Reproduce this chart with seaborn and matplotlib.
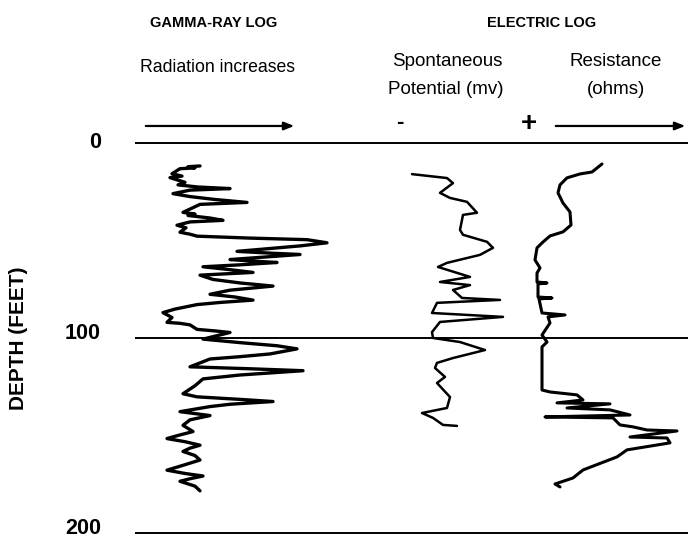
import matplotlib
matplotlib.use("Agg")
import matplotlib.pyplot as plt
import seaborn as sns
import pandas as pd

sns.set_theme(style="white")
plt.rcParams['font.family'] = ['Liberation Sans', 'DejaVu Sans']
plt.rcParams['text.color'] = 'black'

# ---- data (track reading in chart units, depth in feet) ----
gamma_reading = [200, 188, 195, 180, 176, 172, 182, 170, 185, 178, 198, 230, 190, 173, 182, 190, 215, 247, 200,
                 183, 195, 188, 210, 223, 190, 177, 186, 180, 190, 197,
                 250, 307, 327, 300, 237, 270, 300, 230, 250, 277, 240, 203, 230, 253, 200, 213, 240, 273, 230,
                 210, 235, 253, 220, 197, 175, 163, 172, 167, 180, 190,
                 197, 215, 230, 203, 240, 277, 297, 270, 240, 210, 190, 250, 303, 240, 203, 195, 183, 190, 197,
                 240, 273, 230, 210, 180, 195, 210, 190, 183,
                 193, 178, 167, 185, 200, 190, 183, 195, 200, 185, 167, 185, 203, 190, 180, 195, 200]
gamma_depth = [11.8, 12.2, 12.8, 13.2, 14.5, 15.8, 17.0, 17.8, 20.2, 21.5, 22.6, 23.4, 24.2, 26.0, 26.8, 27.5, 29.0, 30.5, 31.5,
               35.6, 36.5, 37.2, 38.5, 39.7, 40.5, 42.2, 43.5, 45.8, 46.8, 47.8,
               48.8, 49.6, 51.2, 52.8, 55.6, 56.5, 57.2, 59.8, 60.5, 61.3, 62.5, 63.5, 65.0, 66.4, 67.8, 70.0, 71.8, 73.4, 75.5,
               77.6, 79.0, 80.6, 81.8, 82.9, 85.2, 87.0, 89.5, 92.0, 92.5, 93.3,
               95.6, 96.4, 97.2, 100.6, 102.4, 104.0, 105.6, 108.2, 109.6, 110.8, 114.8, 115.8, 116.8, 119.0, 121.0, 124.5, 128.6, 129.4, 130.2,
               131.5, 132.6, 134.0, 135.2, 137.8, 138.8, 139.8, 142.0, 144.8,
               148.0, 150.0, 151.6, 153.2, 155.0, 156.5, 158.2, 160.3, 162.6, 165.0, 167.8, 169.5, 170.8, 172.2, 173.5, 176.0, 178.4]

sp_reading = [412, 447, 453, 440, 450, 467, 477, 463, 460, 463, 487, 493, 480, 447, 438, 470, 440, 470, 453,
              462, 500, 437, 432, 503, 440, 432, 433, 460, 485, 453, 437, 435, 445, 437, 450, 447, 422,
              433, 443, 457]
sp_depth = [16.0, 18.0, 20.6, 25.6, 28.2, 30.2, 35.8, 36.9, 44.6, 47.1, 50.7, 53.8, 57.4, 61.5, 63.6, 68.7, 71.3, 72.9, 75.4,
            79.5, 80.5, 82.0, 87.2, 89.2, 91.8, 97.0, 100.0, 102.1, 106.2, 110.3, 112.8, 115.4, 120.0, 123.1, 130.3, 135.9, 138.5,
            141.0, 144.6, 145.1]

res_reading = [602, 592, 580, 567, 560, 558, 563, 570, 571, 563, 550, 543, 537, 535, 540, 537, 537, 547, 538,
               538, 552, 539, 542, 565, 548, 550, 542, 547, 542, 542, 550, 577, 583, 557, 610, 567, 610, 630,
               545, 613, 620, 633, 647, 677, 630, 667, 670, 627, 617, 583, 573, 555, 560]
res_depth = [10.8, 14.9, 15.9, 17.9, 21.5, 25.6, 30.8, 35.4, 42.1, 45.6, 47.7, 50.8, 53.8, 60.0, 64.1, 66.7, 71.3, 71.8, 72.3,
             79.0, 79.5, 80.0, 87.2, 88.2, 89.2, 92.3, 98.5, 102.1, 104.6, 126.7, 127.7, 129.2, 131.8, 133.3, 133.8, 135.9, 136.9, 139.5,
             140.5, 141.0, 144.6, 145.6, 147.2, 147.7, 150.8, 151.3, 153.8, 157.4, 161.0, 167.7, 171.8, 174.9, 176.4]

depth_ticks = [0, 100, 200]
depth_tick_labels = ["0", "100", "200"]

gamma_df = pd.DataFrame({"reading": gamma_reading, "depth": gamma_depth})
sp_df = pd.DataFrame({"reading": sp_reading, "depth": sp_depth})
res_df = pd.DataFrame({"reading": res_reading, "depth": res_depth})

fig = plt.figure(figsize=(6.9, 5.39), dpi=100)
ax = fig.add_axes([0, 0, 1, 1])

sns.lineplot(data=gamma_df, x="reading", y="depth", sort=False, estimator=None,
             color="black", linewidth=2.4, ax=ax)
sns.lineplot(data=sp_df, x="reading", y="depth", sort=False, estimator=None,
             color="black", linewidth=1.8, ax=ax)
sns.lineplot(data=res_df, x="reading", y="depth", sort=False, estimator=None,
             color="black", linewidth=2.2, ax=ax)

ax.set_xlim(0, 690)
ax.set_ylim(203.1, -73.3)
ax.axis("off")

# depth reference lines
ax.hlines(depth_ticks, 135, 688, color="black", linewidth=1.4)
label_offsets = [0, -2.5, -2.5]
for d, lab, off in zip(depth_ticks, depth_tick_labels, label_offsets):
    ax.text(101, d + off, lab, ha="right", va="center", fontsize=15.5, fontweight="bold")

ax.text(19, 100, "DEPTH (FEET)", rotation=90, ha="center", va="center",
        fontsize=15, fontweight="bold")

# headers
ax.text(214, -61.5, "GAMMA-RAY LOG", ha="center", va="center", fontsize=10.5, fontweight="bold")
ax.text(542, -61.5, "ELECTRIC LOG", ha="center", va="center", fontsize=10.5, fontweight="bold")
ax.text(218, -38.5, "Radiation increases", ha="center", va="center", fontsize=12.7)
ax.text(447, -42, "Spontaneous", ha="center", va="center", fontsize=13.5)
ax.text(446, -27.5, "Potential (mv)", ha="center", va="center", fontsize=13.5)
ax.text(616, -42, "Resistance", ha="center", va="center", fontsize=13.5)
ax.text(616, -27.5, "(ohms)", ha="center", va="center", fontsize=13.5)

# arrows and signs
arrow_kw = dict(arrowstyle="-|>,head_length=0.5,head_width=0.2", color="black", lw=1.6)
ax.annotate("", xy=(297, -8.7), xytext=(143, -8.7), arrowprops=arrow_kw)
ax.annotate("", xy=(688, -8.7), xytext=(553, -8.7), arrowprops=arrow_kw)
ax.text(400, -10.5, "-", ha="center", va="center", fontsize=16, fontweight="bold")
ax.text(529, -9.5, "+", ha="center", va="center", fontsize=20, fontweight="bold")

fig.savefig("out.png", dpi=100, facecolor="white")
